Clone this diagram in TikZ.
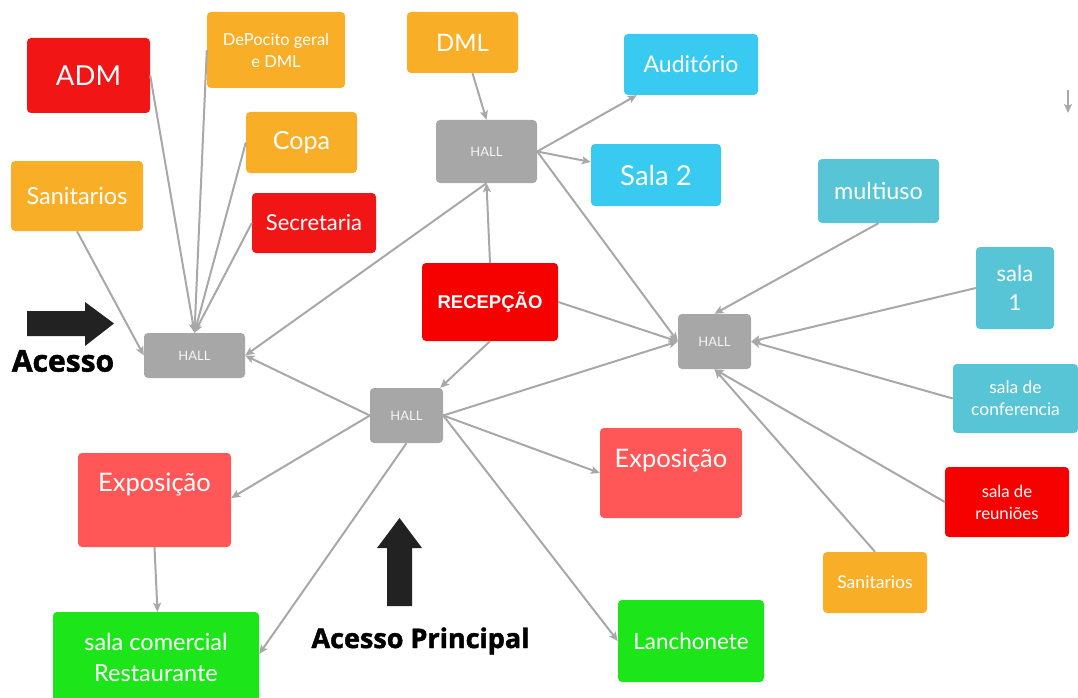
\documentclass[tikz,border=0pt]{standalone}
\usepackage{fontspec}
\setmainfont{Lato}
\newfontfamily\heavyfont{Open Sans}[BoldFeatures={FakeBold=1.6}]
\newfontfamily\boldsans{Liberation Sans}
\usetikzlibrary{arrows.meta}

\definecolor{redA}{HTML}{F21515}
\definecolor{redB}{HTML}{F70000}
\definecolor{orng}{HTML}{F8AE27}
\definecolor{skyb}{HTML}{38CAF0}
\definecolor{teal}{HTML}{57C5D6}
\definecolor{pink}{HTML}{FF5757}
\definecolor{lime}{HTML}{1CE61A}
\definecolor{hallgray}{HTML}{A7A7A7}
\definecolor{linegray}{HTML}{A8A8A8}
\definecolor{ink}{HTML}{222222}

\newcommand{\fs}[2]{\fontsize{#1}{#2}\selectfont}

\begin{document}
\begin{tikzpicture}[x=1pt,y=-1pt,
  box/.style={rounded corners=4pt, inner sep=0pt, text=white, align=center},
  hallbox/.style={box, fill=hallgray, text=white!90!hallgray, font=\fs{13}{15}},
  lbl/.style={inner sep=0pt, text=white, align=center},
  conn/.style={draw=linegray, line width=2pt, -{Stealth[length=9pt,width=8pt,inset=2pt]}}]

\useasboundingbox (0,0) rectangle (1078,698);

% ---------------- rooms ----------------
\node[box, fill=redA, minimum width=123pt, minimum height=75pt, font=\fs{27.5}{32}] (adm) at (88.5,75.5) {ADM};
\node[box, fill=orng, minimum width=138pt, minimum height=76pt, font=\fs{16.5}{22}] (depo) at (276,50) {DePocito geral\\e DML};
\node[box, fill=orng, minimum width=111pt, minimum height=61pt, font=\fs{25}{29}] (copa) at (301.5,142.5) {Copa};
\node[box, fill=orng, minimum width=132pt, minimum height=70pt, font=\fs{23.5}{27}] (sanL) at (77,196) {Sanitarios};
\node[box, fill=redA, minimum width=124pt, minimum height=60pt, font=\fs{22}{26}] (secr) at (314,223) {Secretaria};
\node[box, fill=orng, minimum width=111pt, minimum height=61pt, font=\fs{24}{28}] (dml) at (462.5,42.5) {DML};
\node[box, fill=skyb, minimum width=134pt, minimum height=61pt, font=\fs{23}{27}] (aud) at (691,64.5) {Auditório};
\node[box, fill=skyb, minimum width=130pt, minimum height=62pt, font=\fs{27.5}{31}] (sala2) at (656,175) {Sala 2};
\node[box, fill=redB, minimum width=136pt, minimum height=78pt, font=\boldsans\fs{18.5}{22}\bfseries] (rec) at (490,302) {RECEPÇÃO};
\node[box, fill=teal, minimum width=121pt, minimum height=64pt, font=\fs{23.4}{27}] (multi) at (878.5,191) {multiuso};
\node[box, fill=teal, minimum width=78pt, minimum height=82pt, font=\fs{22}{29}] (sala1) at (1015,288) {sala\\1};
\node[box, fill=teal, minimum width=125pt, minimum height=69pt, font=\fs{17.4}{22}] (conf) at (1015.5,398.5) {sala de\\conferencia};
\node[box, fill=redB, minimum width=124pt, minimum height=70pt, font=\fs{16.8}{22}] (reun) at (1007,502) {sala de\\reuniões};
\node[box, fill=orng, minimum width=104pt, minimum height=61pt, font=\fs{17.6}{21}] (sanR) at (875,582.5) {Sanitarios};
\node[box, fill=pink, minimum width=142pt, minimum height=90pt] (expR) at (671,473) {};
\node[lbl, font=\fs{25.5}{29}] (expRt) at (671,460) {Exposição};
\node[box, fill=lime, minimum width=146pt, minimum height=82pt, font=\fs{22.4}{26}] (lanch) at (691,641) {Lanchonete};
\node[box, fill=pink, minimum width=153pt, minimum height=94pt] (expL) at (154.5,500) {};
\node[lbl, font=\fs{25.5}{29}] (expLt) at (154.5,484) {Exposição};
\node[box, fill=lime, minimum width=206pt, minimum height=94pt] (salaC) at (156,659) {};
\node[lbl, font=\fs{23.5}{31}] (salaCt) at (156,657) {sala comercial\\Restaurante};

% ---------------- halls ----------------
\node[hallbox, minimum width=101pt, minimum height=45pt] (hallL) at (194.5,355.5) {HALL};
\node[hallbox, minimum width=101pt, minimum height=63pt] (hallT) at (486.5,151.5) {HALL};
\node[hallbox, minimum width=73pt, minimum height=55pt] (hallR) at (714.5,341.5) {HALL};
\node[hallbox, minimum width=73pt, minimum height=55pt] (hallC) at (406.5,415.5) {HALL};

% ---------------- connectors ----------------
% left hall
\draw[conn] (adm.east) -- (hallL.north);
\draw[conn] (depo.west) -- (hallL.north);
\draw[conn] (copa.west) -- (hallL.north);
\draw[conn] (secr.west) -- (hallL.north);
\draw[conn] (sanL.south) -- (hallL.west);
\draw[conn] (hallT.south) -- (hallL.east);
\draw[conn] (hallC.west) -- (hallL.east);
% upper hall
\draw[conn] ([xshift=10pt]dml.south) -- (hallT.north);
\draw[conn] (hallT.east) -- ([xshift=13pt]aud.south west);
\draw[conn] (hallT.east) -- ([yshift=13pt]sala2.west);
\draw[conn] (hallT.east) -- (hallR.west);
\draw[conn] (rec.north) -- (hallT.south);
% reception
\draw[conn] (rec.east) -- (hallR.west);
\draw[conn] (rec.south) -- ([xshift=-3pt]hallC.north east);
% central hall
\draw[conn] (hallC.east) -- (hallR.west);
\draw[conn] (hallC.east) -- (expR.west);
\draw[conn] (hallC.east) -- (lanch.west);
\draw[conn] (hallC.west) -- ([yshift=2pt]expL.east);
\draw[conn] (hallC.south) -- ([yshift=5pt]salaC.east);
\draw[conn] (expL.south) -- ([xshift=1.5pt]salaC.north);
% right hall
\draw[conn] (multi.south) -- (hallR.north);
\draw[conn] (sala1.west) -- (hallR.east);
\draw[conn] (conf.west) -- (hallR.east);
\draw[conn] (reun.west) -- (hallR.south);
\draw[conn] (sanR.north) -- (hallR.south);

% small arrow, top right
\coordinate (tickA) at (1068,90);
\coordinate (tickB) at (1068,113);
\draw[conn, line width=1.6pt] (tickA) -- (tickB);

% ---------------- entrances ----------------
\fill[ink] (27,311) -- (85,311) -- (85,302) -- (114,323.5) -- (85,346) -- (85,336) -- (27,336) -- cycle;
\node[inner sep=0pt, font=\heavyfont\fs{30}{34}\bfseries] (acesso) at (63,361) {Acesso};

\fill[ink] (387,606) -- (387,548) -- (377,548) -- (399.5,518) -- (422,548) -- (412,548) -- (412,606) -- cycle;
\node[inner sep=0pt, font=\heavyfont\fs{27}{31}\bfseries] (acessoP) at (420.5,641) {Acesso Principal};

\end{tikzpicture}
\end{document}
